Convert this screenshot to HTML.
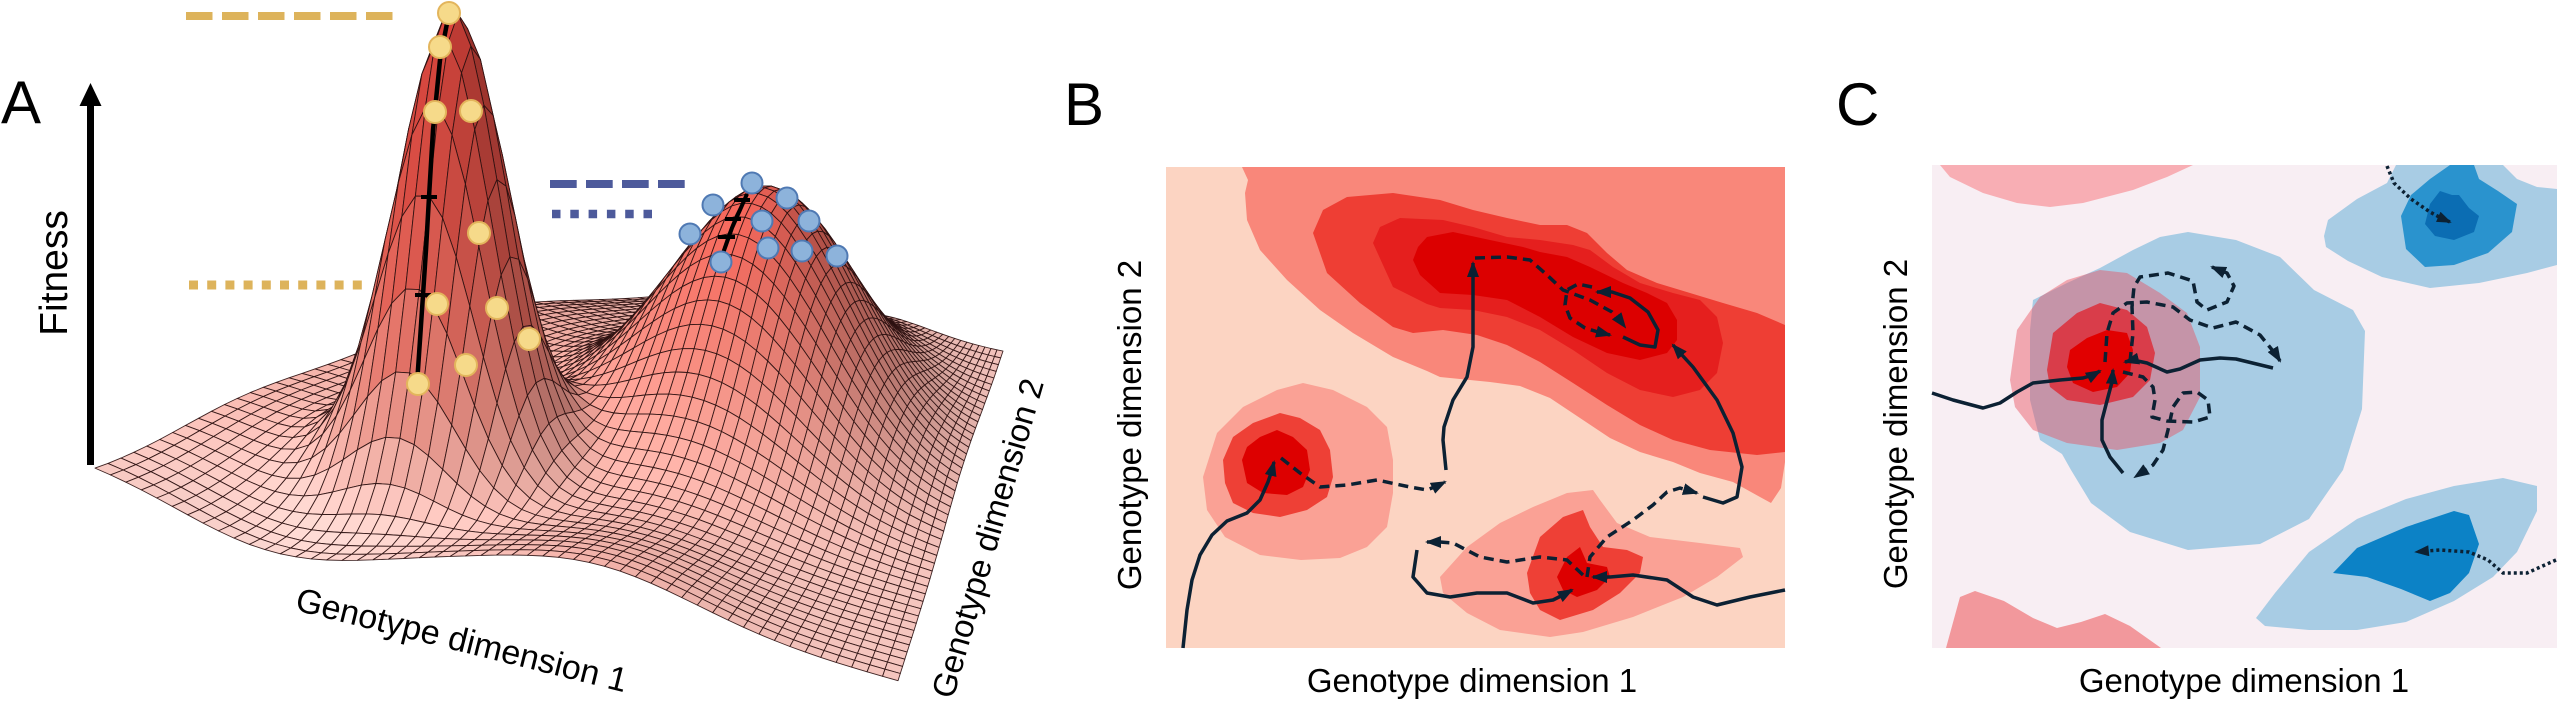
<!DOCTYPE html>
<html>
<head>
<meta charset="utf-8">
<style>
html,body{margin:0;padding:0;background:#fff;}
svg{display:block;}
.s{fill:none;stroke:#0C2133;stroke-width:3.5;stroke-linejoin:round;stroke-linecap:butt;}
.d{fill:none;stroke:#0C2133;stroke-width:3.5;stroke-linejoin:round;stroke-dasharray:10 6;}
.o{fill:none;stroke:#0C2133;stroke-width:3.5;stroke-linejoin:round;stroke-dasharray:3 3;}
text{font-family:"Liberation Sans",Arial,sans-serif;fill:#000;}
</style>
</head>
<body>
<svg id="root" width="2560" height="703" viewBox="0 0 2560 703">
<defs>
<marker id="ah" viewBox="0 0 16 12" refX="14" refY="6" markerWidth="16" markerHeight="12" markerUnits="userSpaceOnUse" orient="auto"><path d="M0,0L16,6L0,12Z" fill="#0C2133"/></marker>
<marker id="ah2" viewBox="0 0 16 12" refX="14" refY="6" markerWidth="15" markerHeight="11" markerUnits="userSpaceOnUse" orient="auto"><path d="M0,0L16,6L0,12Z" fill="#0C2133"/></marker>
</defs>
<rect x="0" y="0" width="2560" height="703" fill="#fff"/>

<!-- ============ PANEL A ============ -->
<text x="1" y="123" font-size="60">A</text>
<line x1="90.5" y1="465" x2="90.5" y2="102" stroke="#000" stroke-width="7"/>
<polygon points="90.5,83 79.5,106 101.5,106" fill="#000"/>
<text transform="translate(67,273) rotate(-90)" font-size="39" text-anchor="middle">Fitness</text>

<polygon id="fb" points="95,463 147,440 213,410 280,377 350,350 385,340 395,224 407,112 432,27 449,13 456,27 498,112 523,224 539,291 560,295 600,290 640,305 683,229 717,200 750,192 800,196 833,217 867,258 890,300 910,342 1003,352 972,450 937,592 898,681 850,667 783,642 717,612 650,585 581,561 540,550 480,547 413,557 347,560 280,552 213,533 147,497" fill="#F0B4AC" stroke="#3a1a1a" stroke-width="1"/>
<g id="mesh" stroke="#2b1010" stroke-width="0.9" stroke-opacity="0.9" stroke-linejoin="round"></g>

<!-- legend lines -->
<line x1="186" y1="16" x2="393" y2="16" stroke="#DDB35B" stroke-width="8" stroke-dasharray="26.5 9.5"/>
<line x1="189" y1="285" x2="362" y2="285" stroke="#DDB35B" stroke-width="9" stroke-dasharray="9 9.2"/>
<line x1="550" y1="184" x2="685" y2="184" stroke="#4D5A9B" stroke-width="8" stroke-dasharray="26.7 9.3"/>
<line x1="552" y1="214" x2="652" y2="214" stroke="#4D5A9B" stroke-width="8.5" stroke-dasharray="8.5 9.8"/>

<!-- peak 1 black trajectory -->
<polyline points="448,18 440,60 433,130 429,197 426,250 423,295 420,340 417,384" fill="none" stroke="#000" stroke-width="4.5"/>
<line x1="421" y1="197" x2="437" y2="197" stroke="#000" stroke-width="4"/>
<line x1="415" y1="295" x2="431" y2="295" stroke="#000" stroke-width="4"/>
<g fill="#F6DA8A" stroke="#E3B55C" stroke-width="2">
<circle cx="449" cy="13" r="11"/>
<circle cx="440" cy="47" r="11"/>
<circle cx="435" cy="112" r="11"/>
<circle cx="471" cy="111" r="11"/>
<circle cx="479" cy="233" r="11"/>
<circle cx="437" cy="304" r="11"/>
<circle cx="497" cy="308" r="11"/>
<circle cx="529" cy="339" r="11"/>
<circle cx="466" cy="365" r="11"/>
<circle cx="418" cy="384" r="11"/>
</g>

<!-- peak 2 black trajectory -->
<polyline points="747,194 740,210 732,228 726,245 722,256" fill="none" stroke="#000" stroke-width="4"/>
<line x1="734" y1="200" x2="750" y2="200" stroke="#000" stroke-width="4"/>
<line x1="725" y1="219" x2="741" y2="219" stroke="#000" stroke-width="4"/>
<line x1="718" y1="237" x2="735" y2="237" stroke="#000" stroke-width="4"/>
<g fill="#8DB3DB" stroke="#4F79B3" stroke-width="2">
<circle cx="752" cy="183" r="10.5"/>
<circle cx="713" cy="205" r="10.5"/>
<circle cx="787" cy="198" r="10.5"/>
<circle cx="690" cy="234" r="10.5"/>
<circle cx="762" cy="221" r="10.5"/>
<circle cx="809" cy="221" r="10.5"/>
<circle cx="721" cy="262" r="10.5"/>
<circle cx="768" cy="248" r="10.5"/>
<circle cx="802" cy="251" r="10.5"/>
<circle cx="837" cy="256" r="10.5"/>
</g>

<text transform="translate(294,610) rotate(14)" font-size="34">Genotype dimension 1</text>
<text transform="translate(953,700) rotate(-74)" font-size="33">Genotype dimension 2</text>

<!-- ============ PANEL B ============ -->
<text x="1064" y="125" font-size="60">B</text>
<rect x="1166" y="167" width="619" height="481" fill="#FCD4C2"/>
<polygon fill="#F9877A" points="1242,167 1785,167 1785,462 1781,488 1771,503 1760,497 1733,482 1700,473 1673,462 1640,452 1610,438 1580,418 1550,398 1520,386 1490,382 1440,377 1427,371 1393,357 1353,333 1320,310 1287,280 1260,250 1247,220 1245,193 1248,180"/>
<polygon fill="#EE3E34" points="1313,233 1323,210 1347,197 1393,193 1440,200 1473,210 1507,218 1540,225 1567,225 1587,233 1607,253 1627,270 1657,283 1690,293 1723,303 1757,313 1785,325 1785,452 1757,455 1710,450 1673,440 1640,425 1607,405 1573,383 1540,362 1507,345 1477,335 1443,330 1413,333 1393,327 1360,303 1327,273"/>
<polygon fill="#E51F1E" points="1373,243 1380,227 1400,218 1443,220 1473,227 1507,237 1540,240 1573,245 1590,250 1613,267 1640,283 1673,293 1700,300 1717,317 1723,343 1717,373 1700,390 1673,397 1640,390 1607,373 1573,350 1540,330 1507,317 1473,310 1440,308 1427,304 1393,287"/>
<polygon fill="#DC0000" points="1418,247 1427,237 1453,232 1490,240 1523,247 1540,252 1567,257 1590,267 1623,283 1647,293 1667,303 1677,320 1677,340 1667,353 1640,360 1607,353 1573,337 1540,317 1507,300 1473,295 1440,293 1420,275 1413,260"/>
<!-- left blob -->
<polygon fill="#FAA195" points="1203,477 1217,433 1243,407 1277,390 1303,383 1333,390 1367,407 1387,427 1393,460 1393,493 1387,527 1367,547 1340,558 1301,560 1260,555 1225,537 1207,510"/>
<polygon fill="#EE4036" points="1223,460 1233,437 1253,423 1280,413 1300,418 1320,430 1330,450 1333,477 1327,497 1307,510 1280,517 1253,513 1233,503 1225,483"/>
<polygon fill="#DD0000" points="1242,460 1247,447 1260,437 1277,430 1293,437 1307,450 1310,470 1303,487 1287,495 1263,493 1247,483"/>
<!-- bottom blob -->
<polygon fill="#FAA195" points="1440,577 1467,547 1500,523 1533,507 1567,493 1593,490 1600,500 1617,523 1650,537 1700,543 1740,548 1743,557 1717,577 1683,597 1633,617 1583,632 1550,637 1500,630 1467,613 1443,593"/>
<polygon fill="#EE4036" points="1527,573 1540,537 1563,517 1583,510 1590,527 1603,547 1627,550 1643,557 1640,573 1620,593 1593,610 1560,620 1540,610 1530,593"/>
<polygon fill="#DD0000" points="1557,577 1567,557 1580,547 1587,563 1607,567 1610,577 1597,590 1577,597 1563,590"/>
<!-- B paths -->
<polyline class="s" marker-end="url(#ah)" points="1183,648 1187,610 1192,580 1200,555 1212,535 1227,521 1247,513 1260,500 1268,482 1272,470 1274,462"/>
<polyline class="d" marker-end="url(#ah)" points="1281,458 1300,473 1320,487 1347,485 1377,480 1410,487 1427,490 1437,486 1445,482"/>
<polyline class="s" marker-end="url(#ah)" points="1446,470 1443,440 1444,427 1453,400 1467,377 1473,347 1473,300 1473,275 1473,263"/>
<polyline class="d" marker-end="url(#ah)" points="1475,258 1507,257 1530,260 1547,275 1563,290 1590,300 1612,312 1619,319 1625,327"/>
<polyline class="d" marker-end="url(#ah)" points="1592,287 1578,284 1567,290 1565,305 1570,318 1585,328 1598,332 1610,335"/>
<polyline class="s" marker-end="url(#ah)" points="1623,337 1640,345 1655,347 1658,330 1648,312 1630,298 1612,292 1604,292 1597,292"/>
<polyline class="s" marker-end="url(#ah)" points="1703,497 1723,503 1737,497 1742,467 1733,433 1717,400 1693,367 1682,355 1673,345"/>
<polyline class="d" marker-end="url(#ah)" points="1587,577 1590,557 1607,537 1633,520 1653,505 1667,492 1680,488 1690,491 1697,493"/>
<polyline class="d" marker-end="url(#ah)" points="1583,575 1567,560 1540,557 1507,562 1480,557 1453,543 1440,542 1427,542"/>
<polyline class="s" marker-end="url(#ah)" points="1417,550 1413,577 1427,593 1450,597 1477,593 1507,593 1533,603 1553,600 1563,595 1572,590"/>
<polyline class="s" marker-end="url(#ah)" points="1785,590 1750,597 1717,605 1693,597 1667,580 1633,575 1610,577 1600,577 1593,577"/>
<text transform="translate(1141,425) rotate(-90)" font-size="33" text-anchor="middle">Genotype dimension 2</text>
<text x="1472" y="692" font-size="33" text-anchor="middle">Genotype dimension 1</text>

<!-- ============ PANEL C ============ -->
<text x="1836" y="125" font-size="60">C</text>
<rect x="1932" y="165" width="625" height="483" fill="#F8EEF3"/>
<polygon fill="#F8AEB4" points="1940,165 2193,165 2167,177 2133,190 2083,203 2050,207 2017,203 1983,193 1950,177"/>
<polygon fill="#F2989C" points="1946,648 1960,597 1975,591 2004,601 2033,618 2057,628 2081,622 2105,614 2130,626 2161,648"/>
<!-- blue big -->
<polygon fill="#A8CCE4" points="2033,300 2067,283 2100,268 2133,250 2160,237 2188,232 2236,240 2280,257 2314,290 2353,310 2365,331 2362,409 2343,470 2309,519 2260,544 2188,550 2130,532 2091,503 2071,470 2062,454 2040,440 2030,400 2030,330"/>
<!-- blue top right -->
<polygon fill="#A8CCE4" points="2324,236 2328,220 2357,199 2387,183 2396,165 2503,165 2517,179 2537,187 2557,189 2557,265 2527,273 2479,283 2430,288 2382,277 2348,261 2326,247"/>
<polygon fill="#2A93CE" points="2401,216 2411,195 2430,179 2450,165 2474,165 2479,179 2498,191 2517,204 2512,232 2488,253 2454,265 2425,267 2406,249"/>
<polygon fill="#0B6DB3" points="2425,224 2430,204 2440,191 2452,195 2459,195 2469,208 2479,216 2474,232 2454,240 2435,236"/>
<!-- blue bottom right -->
<polygon fill="#A8CCE4" points="2256,618 2275,593 2309,552 2357,519 2406,499 2454,486 2503,478 2537,486 2537,511 2517,552 2493,577 2454,601 2406,622 2357,630 2309,630 2265,626"/>
<polygon fill="#0C82C6" points="2333,573 2357,548 2406,527 2454,511 2469,515 2479,544 2469,573 2450,593 2430,601 2401,589 2367,577"/>
<!-- red center -->
<polygon fill="#E8505F" fill-opacity="0.45" points="2010,380 2017,330 2040,297 2067,280 2100,270 2127,273 2160,293 2187,313 2200,347 2200,397 2183,430 2160,443 2117,450 2067,443 2033,430 2015,407"/>
<polygon fill="#D93D4A" points="2047,370 2053,333 2077,313 2100,303 2127,310 2147,327 2155,353 2150,380 2133,397 2100,405 2067,400 2050,387"/>
<polygon fill="#E10000" points="2067,367 2070,350 2087,338 2107,330 2127,333 2133,350 2130,373 2117,387 2093,392 2073,383"/>
<!-- C paths -->
<polyline class="s" marker-end="url(#ah)" points="1932,393 1953,400 1983,408 2000,403 2017,392 2033,383 2060,380 2083,378 2093,375 2100,371"/>
<polyline class="s" marker-end="url(#ah)" points="2123,473 2110,457 2102,440 2102,420 2108,397 2112,382 2113,370"/>
<polyline class="s" marker-end="url(#ah)" points="2273,368 2236,359 2220,358 2200,360 2180,369 2167,372 2147,363 2133,360 2125,362"/>
<polyline class="d" marker-end="url(#ah)" points="2130,362 2133,333 2132,307 2134,287 2140,277 2168,273 2193,281 2197,302 2207,310 2227,302 2234,286 2227,273 2219,270 2212,267"/>
<polyline class="d" marker-end="url(#ah)" points="2105,362 2107,333 2113,313 2127,303 2147,302 2173,307 2190,320 2213,328 2236,322 2260,335 2273,351 2277,356 2280,361"/>
<polyline class="d" marker-end="url(#ah)" points="2123,372 2143,377 2153,387 2155,400 2152,417 2167,421 2193,422 2210,417 2208,400 2197,392 2183,393 2173,407 2168,430 2163,450 2153,465 2144,471 2135,477"/>
<polyline class="o" marker-end="url(#ah2)" points="2387,166 2394,183 2411,199 2430,212 2441,218 2450,222"/>
<polyline class="o" marker-end="url(#ah2)" points="2556,560 2527,573 2503,573 2488,560 2469,552 2440,550 2426,551 2416,552"/>
<text transform="translate(1907,424) rotate(-90)" font-size="33" text-anchor="middle">Genotype dimension 2</text>
<text x="2244" y="692" font-size="33" text-anchor="middle">Genotype dimension 1</text>
</svg>

<script>
(function(){
var L=[95,463],F=[898,681],R=[1003,352],B=[690,300];
function gr(s,t){var a=(1-s)*(1-t),b=s*(1-t),c=s*t,d=(1-s)*t;return [a*L[0]+b*F[0]+c*R[0]+d*B[0],a*L[1]+b*F[1]+c*R[1]+d*B[1]];}
function g(x,y,sx,sy){return Math.exp(-x*x/(2*sx*sx)-y*y/(2*sy*sy));}
function H(s,t){
 return 460*g(s-0.3,t-0.26,0.07,0.07)
  +240*g(s-0.6,t-0.62,0.165,0.165)
  +48*g(s,t-0.62,0.2,0.2)
  +20*g(s,t-0.25,0.15,0.12)
  -42*g(s-0.22,t,0.12,0.15)
  +35*g(s-0.63,t,0.12,0.15);
}
var NS=52,NT=46,G=[],Z=[],i,j,k;
for(i=0;i<=NS;i++){G[i]=[];Z[i]=[];for(j=0;j<=NT;j++){G[i][j]=gr(i/NS,j/NT);Z[i][j]=H(i/NS,j/NT);}}
var st=[[-45,250,214,208],[0,247,199,192],[50,243,171,161],[120,239,135,123],[200,235,105,93],[300,226,82,72],[470,212,64,56]];
function col(h){
 if(h<=st[0][0])return st[0].slice(1);
 for(var m=1;m<st.length;m++){
  if(h<=st[m][0]){var f=(h-st[m-1][0])/(st[m][0]-st[m-1][0]);
   return [st[m-1][1]+(st[m][1]-st[m-1][1])*f,st[m-1][2]+(st[m][2]-st[m-1][2])*f,st[m-1][3]+(st[m][3]-st[m-1][3])*f];}
 }
 return st[st.length-1].slice(1);
}
var lx=-0.5/0.99,ly=0.3/0.99,lz=0.8/0.99;
var q=[];
for(i=0;i<NS;i++){for(j=0;j<NT;j++){
 var p=[[i,j],[i+1,j],[i+1,j+1],[i,j+1]],dsum=0,hs=0,pts=[];
 for(k=0;k<4;k++){var a=p[k][0],b=p[k][1];dsum+=G[a][b][1];hs+=Z[a][b];
  pts.push(G[a][b][0].toFixed(1)+','+(G[a][b][1]-Z[a][b]).toFixed(1));}
 var ax=G[i+1][j+1][0]-G[i][j][0],ay=(G[i+1][j+1][1]-G[i][j][1])*2.5,az=Z[i+1][j+1]-Z[i][j];
 var bx=G[i][j+1][0]-G[i+1][j][0],by=(G[i][j+1][1]-G[i+1][j][1])*2.5,bz=Z[i][j+1]-Z[i+1][j];
 var nx=ay*bz-az*by,ny=az*bx-ax*bz,nz=ax*by-ay*bx;
 if(nz<0){nx=-nx;ny=-ny;nz=-nz;}
 var nl=Math.sqrt(nx*nx+ny*ny+nz*nz)||1;
 var lam=Math.max(0,(nx*lx+ny*ly+nz*lz)/nl);
 var fct=0.72+0.34*lam;
 var c=col(hs/4);
 var cc=[0,1,2].map(function(m){return Math.max(0,Math.min(255,Math.round(c[m]*fct)));});
 q.push({d:dsum/4,p:'M'+pts.join('L')+'Z',c:'rgb('+cc.join(',')+')'});
}}
q.sort(function(a,b){return a.d-b.d;});
var g0=document.getElementById('mesh');
var ns=g0.namespaceURI;
for(k=0;k<q.length;k++){var e=document.createElementNS(ns,'path');e.setAttribute('d',q[k].p);e.setAttribute('fill',q[k].c);g0.appendChild(e);}
var fb=document.getElementById('fb');if(fb)fb.setAttribute('display','none');
})();
</script>
</body>
</html>
